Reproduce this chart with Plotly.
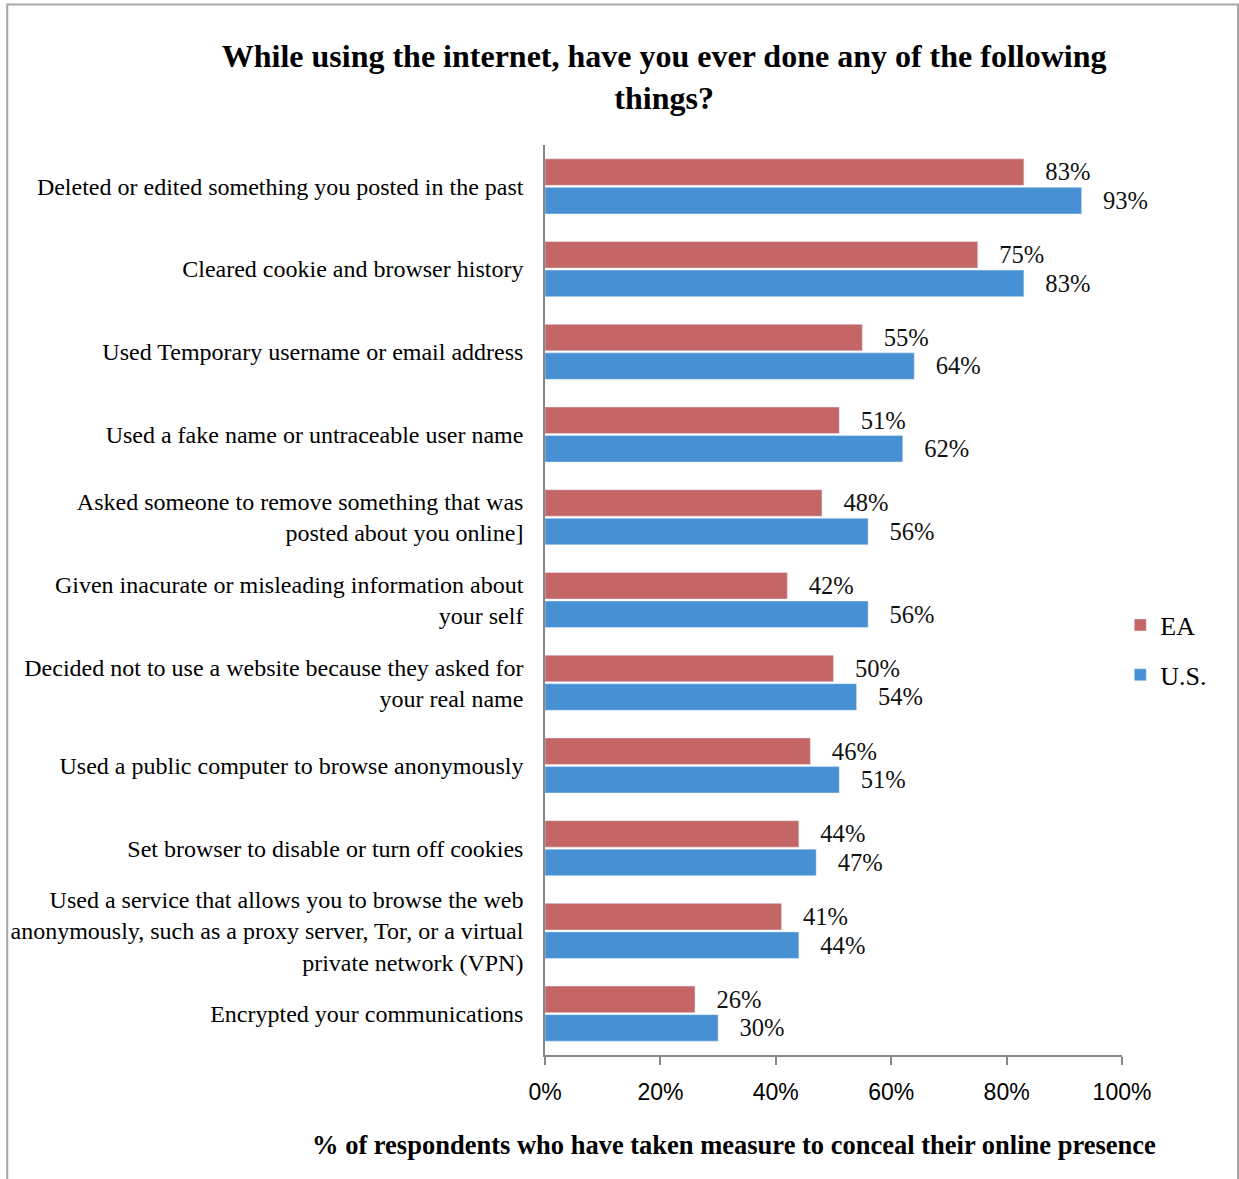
import plotly.graph_objects as go

# Survey items (top to bottom) and share of respondents per region
categories = [
    "Deleted or edited something you posted in the past",
    "Cleared cookie and browser history",
    "Used Temporary username or email address",
    "Used a fake name or untraceable user name",
    "Asked someone to remove something that was<br>posted about you online]",
    "Given inacurate or misleading information about<br>your self",
    "Decided not to use a website because they asked for<br>your real name",
    "Used a public computer to browse anonymously",
    "Set browser to disable or turn off cookies",
    "Used a service that allows you to browse the web<br>anonymously, such as a proxy server, Tor, or a virtual<br>private network (VPN)",
    "Encrypted your communications",
]
ea_values = [0.83, 0.75, 0.55, 0.51, 0.48, 0.42, 0.50, 0.46, 0.44, 0.41, 0.26]
us_values = [0.93, 0.83, 0.64, 0.62, 0.56, 0.56, 0.54, 0.51, 0.47, 0.44, 0.30]
x_ticks = [0, 0.2, 0.4, 0.6, 0.8, 1.0]
x_tick_labels = ["0%", "20%", "40%", "60%", "80%", "100%"]

SERIF = "Liberation Serif, Times New Roman, serif"
SANS = "Liberation Sans Narrow, Liberation Sans, Arial, sans-serif"
NBSP = "\u00a0"

fig = go.Figure()
fig.add_trace(go.Bar(
    name="EA", y=categories, x=ea_values, orientation="h",
    marker=dict(color="#C46666"), legendgroup="ea",
    texttemplate=NBSP * 3 + "%{x:.0%}", textposition="outside",
    textfont=dict(family=SERIF, size=25, color="#111111"),
    cliponaxis=False,
))
fig.add_trace(go.Bar(
    name="U.S.", y=categories, x=us_values, orientation="h",
    marker=dict(color="#4690D3"), legendgroup="us",
    texttemplate=NBSP * 3 + "%{x:.0%}", textposition="outside",
    textfont=dict(family=SERIF, size=25, color="#111111"),
    cliponaxis=False,
))

# Outer frame (left, top, right edges)
frame_left, frame_right, frame_top, frame_bottom = -0.932, 1.201, 1.1544, -0.2
fig.add_shape(
    type="path", xref="paper", yref="paper",
    path=(f"M {frame_left} {frame_bottom} L {frame_left} {frame_top} "
          f"L {frame_right} {frame_top} L {frame_right} {frame_bottom}"),
    line=dict(color="#A6A6A6", width=2),
)

fig.add_annotation(
    text="% of respondents who have taken measure to conceal their online presence",
    xref="paper", yref="paper", x=0.3276, y=-0.099,
    xanchor="center", yanchor="middle", showarrow=False,
    font=dict(family=SERIF, size=26.5, color="#000000", weight="bold"),
)

fig.update_layout(
    width=1239, height=1179,
    margin=dict(l=545, r=117, t=145, b=124, autoexpand=False),
    paper_bgcolor="white", plot_bgcolor="white",
    barmode="group", bargap=0.31, bargroupgap=0.07,
    title=dict(
        text="While using the internet, have you ever done any of the following<br>things?",
        x=0.536, xref="container", xanchor="center",
        y=1 - 67 / 1179, yref="container", yanchor="middle",
        font=dict(family=SERIF, size=32, color="#000000", weight="bold"),
    ),
    legend=dict(
        x=0.997, xanchor="left", y=0.445, yanchor="middle",
        font=dict(family=SERIF, size=26, color="#000000"),
        tracegroupgap=13, traceorder="grouped",
        bgcolor="rgba(0,0,0,0)",
    ),
    showlegend=True,
)
fig.update_xaxes(
    range=[0, 1], tickvals=x_ticks, ticktext=x_tick_labels,
    showgrid=False, zeroline=False, automargin=False,
    showline=True, linecolor="#868686", linewidth=1.5,
    ticks="outside", ticklen=8, tickcolor="#868686", tickwidth=1.5,
    ticklabelstandoff=8,
    tickfont=dict(family=SANS, size=23, color="#000000"),
)
fig.update_yaxes(
    autorange="reversed", showgrid=False, zeroline=False, automargin=False,
    showline=True, linecolor="#868686", linewidth=1.5,
    ticks="", ticklabelstandoff=15,
    tickfont=dict(family=SERIF, size=24, color="#000000"),
)

fig.write_html("out.html")
